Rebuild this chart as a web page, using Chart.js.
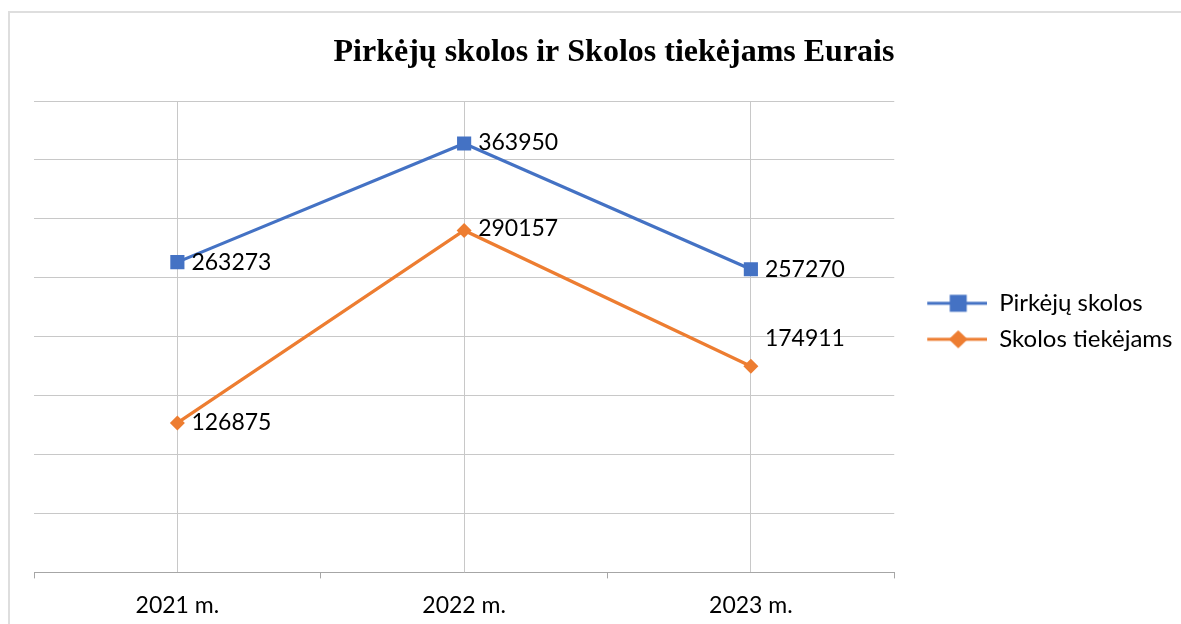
<!DOCTYPE html>
<html>
<head>
<meta charset="utf-8">
<script src="https://cdn.jsdelivr.net/npm/chart.js@4.4.1/dist/chart.umd.min.js"></script>
<style>
  html, body { margin: 0; padding: 0; background: #fff; overflow: hidden; width: 1181px; height: 624px; }
  #frame { position: absolute; left: 8px; top: 11px; width: 1300px; height: 700px; border: 2px solid #dedede; box-sizing: border-box; }
  #c { position: absolute; left: 9px; top: 12px; }
</style>
</head>
<body>
<div id="frame"></div>
<canvas id="c" width="1212" height="628"></canvas>
<script>
const categories = ['2021 m.', '2022 m.', '2023 m.'];
const pirkejuSkolos = [263273, 363950, 257270];
const skolosTiekejams = [126875, 290157, 174911];
const seriesNames = ['Pirkėjų skolos', 'Skolos tiekėjams'];
const chartTitle = 'Pirkėjų skolos ir Skolos tiekėjams Eurais';
const yMin = 0;
const yMax = 400000;
const yStep = 50000;

const BLUE = '#4472C4';
const ORANGE = '#ED7D31';
const LABEL_FONT = 'Lato, "Open Sans", sans-serif';

function legendMarker(color, shape) {
  const c = document.createElement('canvas');
  c.width = 81; c.height = 20;
  const g = c.getContext('2d');
  g.strokeStyle = color; g.lineWidth = 3;
  g.beginPath(); g.moveTo(21, 10); g.lineTo(81, 10); g.stroke();
  g.fillStyle = color;
  const cx = 52, cy = 10;
  if (shape === 'rect') {
    g.fillRect(cx - 8.5, cy - 8.5, 17, 17);
  } else {
    g.beginPath();
    g.moveTo(cx, cy - 9); g.lineTo(cx + 9.5, cy); g.lineTo(cx, cy + 9); g.lineTo(cx - 9.5, cy);
    g.closePath(); g.fill();
  }
  return c;
}

const dataLabels = {
  id: 'dataLabels',
  afterDatasetsDraw(chart, args, opts) {
    const ctx = chart.ctx;
    ctx.save();
    ctx.font = opts.font;
    ctx.fillStyle = opts.color;
    ctx.textAlign = 'left';
    ctx.textBaseline = 'middle';
    chart.data.datasets.forEach((ds, di) => {
      const meta = chart.getDatasetMeta(di);
      meta.data.forEach((pt, i) => {
        const off = (opts.offsets[di] && opts.offsets[di][i]) || [14, 0];
        ctx.fillText(String(ds.data[i]), pt.x + off[0], pt.y + off[1]);
      });
    });
    ctx.restore();
  }
};

// centre the title over the whole frame (as in the original) rather than over the layout box
const titleCentre = {
  id: 'titleCentre',
  afterLayout(chart, args, opts) {
    const t = chart.titleBlock;
    if (!t) return;
    const shift = opts.centerX - (t.left + t.right) / 2;
    t.left += shift; t.right += shift;
  }
};

new Chart(document.getElementById('c'), {
  type: 'line',
  data: {
    labels: categories,
    datasets: [
      {
        label: seriesNames[0],
        data: pirkejuSkolos,
        borderColor: BLUE,
        backgroundColor: BLUE,
        borderWidth: 3.2,
        pointStyle: 'rect',
        pointRadius: 10,
        pointBorderWidth: 0,
        pointBackgroundColor: BLUE,
        tension: 0,
        xAxisID: 'x',
        legendImg: legendMarker(BLUE, 'rect')
      },
      {
        label: seriesNames[1],
        data: skolosTiekejams,
        borderColor: ORANGE,
        backgroundColor: ORANGE,
        borderWidth: 3.2,
        pointStyle: 'rectRot',
        pointRadius: 7.5,
        pointBorderWidth: 0,
        pointBackgroundColor: ORANGE,
        tension: 0,
        xAxisID: 'x',
        legendImg: legendMarker(ORANGE, 'diamond')
      }
    ]
  },
  options: {
    responsive: false,
    animation: false,
    devicePixelRatio: 1,
    layout: { padding: { left: 25, right: 40, top: 21.3, bottom: 8 } },
    plugins: {
      title: {
        display: true,
        text: chartTitle,
        color: '#000',
        font: { family: '"Liberation Serif", "Times New Roman", serif', size: 32, weight: 'bold' },
        padding: { top: 0, bottom: 29.3 }
      },
      titleCentre: { centerX: 605 },
      legend: {
        display: true,
        position: 'right',
        align: 'start',
        title: { display: true, text: ' ', font: { size: 10 }, padding: { top: 234, bottom: 0 } },
        labels: {
          usePointStyle: true,
          pointStyleWidth: 81,
          color: '#000',
          font: { family: LABEL_FONT, size: 24 },
          padding: 12,
          generateLabels(chart) {
            return chart.data.datasets.map((ds, i) => ({
              text: ds.label,
              fillStyle: ds.borderColor,
              strokeStyle: ds.borderColor,
              lineWidth: 0,
              pointStyle: ds.legendImg,
              datasetIndex: i,
              hidden: false,
              fontColor: '#000'
            }));
          }
        }
      },
      tooltip: { enabled: false },
      dataLabels: {
        font: '23px ' + LABEL_FONT,
        color: '#000',
        offsets: [
          [[14, 0], [14, -1], [14, 0]],
          [[14, 0], [14, -2], [14, -28]]
        ]
      }
    },
    scales: {
      x: {
        type: 'category',
        position: 'bottom',
        weight: 1,
        offset: true,
        grid: { display: true, offset: false, color: '#c8c8c8', lineWidth: 1, drawTicks: false },
        border: { display: false },
        ticks: { color: '#000', font: { family: LABEL_FONT, size: 23 }, padding: 13, maxRotation: 0 }
      },
      x2: {
        type: 'category',
        labels: categories,
        position: 'bottom',
        weight: 0,
        offset: true,
        grid: { display: true, offset: true, drawOnChartArea: false, drawTicks: true, tickLength: 6, color: '#a6a6a6', lineWidth: 1 },
        border: { display: true, color: '#a6a6a6', width: 1 },
        ticks: { display: false }
      },
      y: {
        min: yMin,
        max: yMax,
        ticks: { display: false, stepSize: yStep },
        grid: { color: '#c8c8c8', lineWidth: 1, drawTicks: false },
        border: { display: false }
      }
    }
  },
  plugins: [dataLabels, titleCentre]
});
</script>
</body>
</html>
